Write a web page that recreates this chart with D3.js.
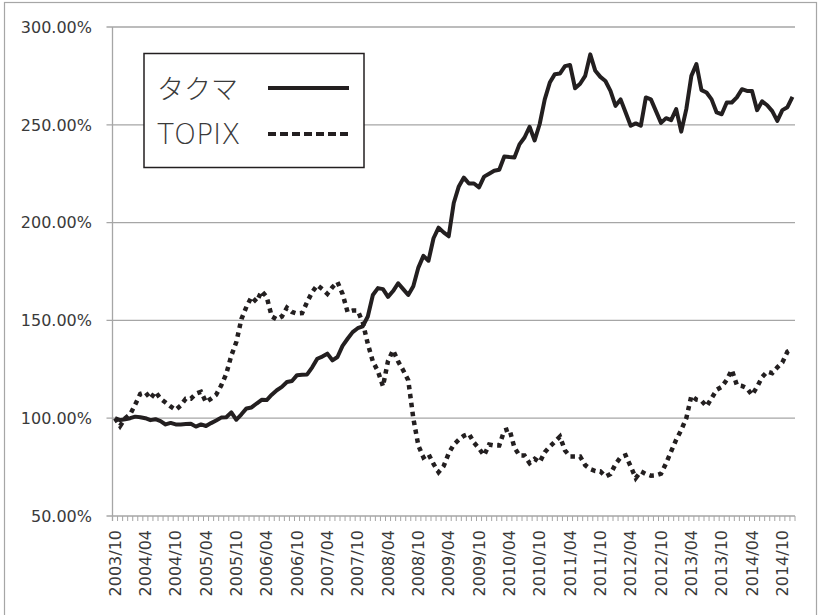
<!DOCTYPE html>
<html>
<head>
<meta charset="utf-8">
<script src="https://cdn.jsdelivr.net/npm/d3@7"></script>
<style>
  body { margin: 0; background: #fff; }
  text { font-family: "DejaVu Sans", sans-serif; fill: #3a3a3a; }
</style>
</head>
<body>
<svg id="main" width="820" height="615"></svg>
<script>
// monthly categories 2003/10 .. 2014/12
var months = [];
for (var y = 2003; y <= 2014; y++) {
    for (var m = 1; m <= 12; m++) {
        if (y == 2003 && m < 10) continue;
        months.push(y + "/" + (m < 10 ? "0" + m : m));
    }
}

var seriesNames = ["タクマ", "TOPIX"];
var yTicks = [50, 100, 150, 200, 250, 300];

// タクマ (%)
var takuma = [
    100, 99, 99.5, 100, 100.8, 100.5, 100, 99, 99.5, 98.5,
    96.8, 97.6, 96.8, 96.8, 97, 97.2, 95.7, 96.8, 96, 97.5,
    98.8, 100.3, 100.5, 103, 99.2, 102, 105, 105.5, 107.5, 109.4,
    109.3, 112, 114.3, 116, 118.5, 119, 122, 122.2, 122.4, 126,
    130.4, 131.5, 133, 129.6, 131.3, 137, 140.6, 144, 146, 147,
    152, 163, 166.5, 166, 162, 165, 169, 166, 163, 167.5,
    177, 183, 180.5, 192, 197.4, 195, 193, 210, 218.5, 223,
    220, 220, 218, 223.5, 225, 226.5, 227, 233.8, 233.5, 233.3,
    240, 243.5, 249, 242, 250.4, 263, 271.6, 275.9, 276.2, 280,
    280.6, 268.7, 271, 275, 286, 277.6, 274.5, 272.4, 267.3, 259.7,
    263, 256.3, 249.5, 250.7, 249.5, 264, 263, 257, 251, 253.4,
    252.4, 258, 246.5, 258, 275, 281, 267.7, 266.5, 263, 256.3,
    255.4, 261.4, 261.4, 264, 268.2, 267.3, 267.3, 257.5, 262, 260,
    257, 252, 257.5, 259, 264.3
];

// TOPIX (%)
var topix = [
    100, 96, 100, 102, 107, 112.5, 113.3, 110, 113.5, 110,
    108, 106, 104.3, 106.5, 110, 110, 112.5, 113.5, 108.2, 110,
    112, 116.7, 122.6, 132, 139, 150.7, 157, 162, 159.5, 165,
    162, 152, 150.5, 152, 156.5, 154.3, 153.5, 153.7, 159.4, 164.5,
    168, 166, 163.6, 167, 169.6, 163.6, 154.3, 155, 155, 149,
    138, 129, 124, 116.3, 129.3, 134.7, 129, 124.5, 119.4, 100,
    86, 80, 81.7, 76.6, 72.4, 75.5, 82, 86.5, 89, 91,
    92, 87.5, 84.5, 81, 86.5, 86, 86, 93.7, 94.5, 85,
    80.9, 80.9, 77, 79.2, 77.5, 82.6, 85.5, 88, 90.6, 83.5,
    80.4, 80.4, 80.4, 76, 74, 73, 72.8, 70.2, 71.5, 76.5,
    80, 81, 75.3, 69.4, 72.8, 71.5, 70.6, 70.8, 71.6, 77,
    83, 89, 94, 100, 111.4, 109.5, 109, 106, 110.2, 114.5,
    116, 119.6, 124.7, 117, 116.5, 115.3, 111.9, 116, 121, 123.8,
    123, 126, 128.5, 134, 135.5
];

function drawChart() {
    var svg = d3.select("#main");
    var left = 112.5, right = 795, top = 27, bottom = 516;

    // outer frame
    svg.append("rect")
        .attr("x", 4.5).attr("y", 2.5)
        .attr("width", 812).attr("height", 630)
        .attr("fill", "none").attr("stroke", "#a6a6a6").attr("stroke-width", 1.2);

    var x = d3.scaleBand().domain(months).range([left, right]).padding(0);
    var y = d3.scaleLinear().domain([50, 300]).range([bottom, top]);

    // gridlines + y labels
    var grid = svg.append("g");
    grid.selectAll("line").data(yTicks).enter().append("line")
        .attr("x1", left - 6).attr("x2", right)
        .attr("y1", d => y(d)).attr("y2", d => y(d))
        .attr("stroke", "#a6a6a6").attr("stroke-width", 1.3);
    grid.selectAll("text").data(yTicks).enter().append("text")
        .attr("x", 92).attr("y", d => y(d))
        .attr("dy", "0.36em")
        .attr("text-anchor", "end")
        .style("font-size", "16px")
        .text(d => d.toFixed(2) + "%");

    // y axis line
    svg.append("line")
        .attr("x1", left).attr("x2", left).attr("y1", top).attr("y2", bottom + 5)
        .attr("stroke", "#a6a6a6").attr("stroke-width", 1.3);

    // x axis ticks at each category boundary
    var bounds = months.map(d => x(d)).concat([right]);
    svg.append("g").selectAll("line").data(bounds).enter().append("line")
        .attr("x1", d => d).attr("x2", d => d)
        .attr("y1", bottom).attr("y2", bottom + 5)
        .attr("stroke", "#a6a6a6").attr("stroke-width", 1);

    // x labels every 6 months
    var labels = months.filter((d, i) => i % 6 == 0);
    svg.append("g").selectAll("text").data(labels).enter().append("text")
        .attr("transform", d => "translate(" + (x(d) + x.bandwidth() / 2) + ",530) rotate(-90)")
        .attr("dy", "0.36em")
        .attr("text-anchor", "end")
        .style("font-size", "16px")
        .text(d => d);

    var line = d3.line()
        .x((d, i) => x(months[i]) + x.bandwidth() / 2)
        .y(d => y(d));

    svg.append("path").datum(topix)
        .attr("d", line)
        .attr("fill", "none").attr("stroke", "#231f20")
        .attr("stroke-width", 4.5)
        .attr("stroke-dasharray", "4.5,4.5");

    svg.append("path").datum(takuma)
        .attr("d", line)
        .attr("fill", "none").attr("stroke", "#231f20")
        .attr("stroke-width", 4)
        .attr("stroke-linejoin", "round");

    // legend
    var lg = svg.append("g");
    lg.append("rect")
        .attr("x", 144).attr("y", 53.5).attr("width", 220).attr("height", 114)
        .attr("fill", "#fff").attr("stroke", "#231f20").attr("stroke-width", 1.5);
    lg.append("text").attr("x", 157).attr("y", 99)
        .style("font-family", "'Noto Sans CJK JP', sans-serif")
        .style("font-weight", 300)
        .style("font-size", "27px").text(seriesNames[0]);
    lg.append("text").attr("x", 157).attr("y", 144)
        .style("font-size", "28px").style("font-weight", 300)
        .text(seriesNames[1]);
    lg.append("line").attr("x1", 268).attr("x2", 349).attr("y1", 88).attr("y2", 88)
        .attr("stroke", "#231f20").attr("stroke-width", 4);
    lg.append("line").attr("x1", 268).attr("x2", 349).attr("y1", 134).attr("y2", 134)
        .attr("stroke", "#231f20").attr("stroke-width", 4)
        .attr("stroke-dasharray", "8,4");
}

drawChart();
</script>
</body>
</html>
